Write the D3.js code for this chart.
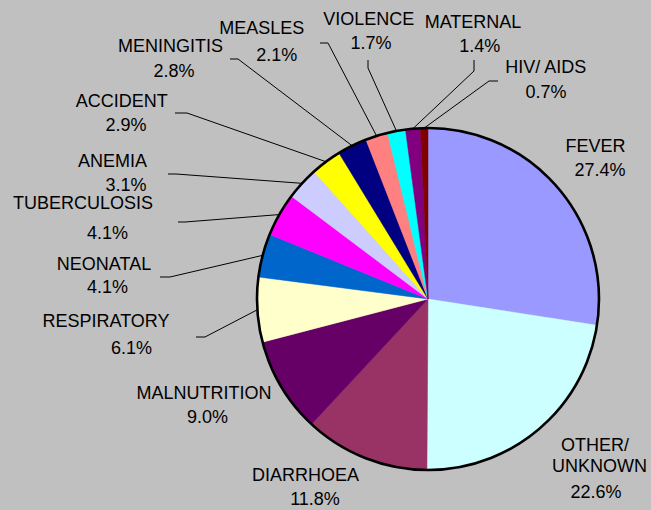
<!DOCTYPE html>
<html><head><meta charset="utf-8">
<script src="https://cdn.jsdelivr.net/npm/d3@7"></script>
<style>html,body{margin:0;padding:0;background:#c0c0c0;}svg{display:block;}</style>
</head><body>
<svg id="chart" width="651" height="510"></svg>
<script>
// ---- data ----
const categories = ["FEVER","OTHER/\nUNKNOWN","DIARRHOEA","MALNUTRITION","RESPIRATORY","NEONATAL","TUBERCULOSIS","ANEMIA","ACCIDENT","MENINGITIS","MEASLES","VIOLENCE","MATERNAL","HIV/ AIDS"];
const values = [27.4,22.6,11.8,9.0,6.1,4.1,4.1,3.1,2.9,2.8,2.1,1.7,1.4,0.7];
const colors = ["#9999FF","#CCFFFF","#993366","#660066","#FFFFCC","#0066CC","#FF00FF","#CCCCFF","#FFFF00","#000080","#FF8080","#00FFFF","#800080","#800000"];

// ---- layout (label line positions, leader line starts/knees) ----
const labelLines = [
  [[595.5,152],[600,176]],
  [[595,451],[599.5,472],[596,498]],
  [[305.5,481],[315,505]],
  [[204,399],[207.5,423]],
  [[106,327],[131.5,354]],
  [[104,270],[107.5,293]],
  [[83,209],[107.5,239]],
  [[112.5,166.5],[126,190.5]],
  [[121.7,106.5],[126,130.5]],
  [[170.5,51.5],[174,76.5]],
  [[261.7,34],[276.7,60.5]],
  [[368.7,25],[371,49]],
  [[473,27.5],[479.7,52]],
  [[545.8,72.5],[546,97.5]]
];
const leaders = [null,null,null,null,
  [[196,337],[205,337]],
  [[160,277],[170,277]],
  [[178,222],[185,222]],
  [[168,174],[176,174]],
  [[175,113],[187,113]],
  [[230,59],[238,59]],
  [[320,43],[328,43]],
  [[368,60],[368,68]],
  [[474,60],[474,71]],
  [[498,81],[489,81]]
];

const cx = 428, cy = 299, R = 171;
const svg = d3.select("#chart");
svg.append("rect").attr("width",651).attr("height",510).attr("fill","#c0c0c0");

const pie = d3.pie().sort(null).value(d => d.v);
const data = categories.map((c,i) => ({name:c, v:values[i], color:colors[i], i}));
const arcs = pie(data);
const arc = d3.arc().innerRadius(0).outerRadius(R);
const edge = d3.arc().innerRadius(R).outerRadius(R);

const g = svg.append("g").attr("transform",`translate(${cx},${cy})`);
g.selectAll("path.slice").data(arcs).join("path")
  .attr("class","slice")
  .attr("d",arc)
  .attr("fill",d => d.data.color)
  .attr("stroke",d => d.data.color)
  .attr("stroke-width",0.5);
g.append("circle").attr("r",R).attr("fill","none").attr("stroke","#000").attr("stroke-width",2.6);

// leader lines
const line = d3.line();
arcs.forEach((d,i) => {
  const L = leaders[i];
  if (!L) return;
  const c = edge.centroid(d);
  const pts = [L[0], L[1], [c[0]+cx, c[1]+cy]];
  svg.append("path").attr("d", line(pts)).attr("fill","none")
    .attr("stroke","#000").attr("stroke-width",1);
});

// labels
const fmt = d3.format(".1f");
arcs.forEach((d,i) => {
  const texts = d.data.name.split("\n").concat([fmt(d.data.v)+"%"]);
  texts.forEach((t,j) => {
    const p = labelLines[i][j];
    svg.append("text").attr("x",p[0]).attr("y",p[1])
      .attr("text-anchor","middle")
      .attr("font-family","'Liberation Sans', Arial, sans-serif")
      .attr("font-size","18px")
      .attr("fill","#000")
      .text(t);
  });
});
</script>
</body></html>
